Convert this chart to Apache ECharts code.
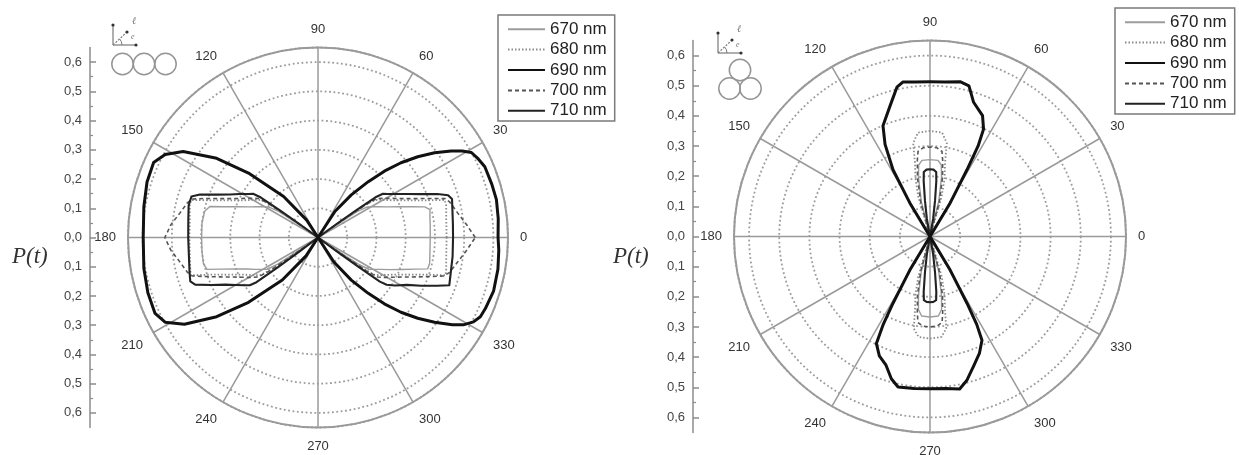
<!DOCTYPE html>
<html>
<head>
<meta charset="utf-8">
<script src="https://cdn.jsdelivr.net/npm/echarts@6/dist/echarts.min.js"></script>
<style>
html, body { margin: 0; padding: 0; background: #fff; }
#chart { width: 1239px; height: 455px; }
</style>
</head>
<body>
<div id="chart"></div>
<script>
// Wavelengths shown in both legends
const seriesNames = ['670 nm', '680 nm', '690 nm', '700 nm', '710 nm'];

// Angular ticks (degrees) and radial scale labels
const angleStep = 30;
const scaleLabels = ['0,0', '0,1', '0,2', '0,3', '0,4', '0,5', '0,6'];

// Chain of three particles in a row: [angle in degrees, P(t)]
const row670 = [[0,.384],[6,.386],[11,.39],[14,.395],[16,.38],[18,.34],[21,.293],[24,.258],[27,.232],[30,.21],[32,.195],[33.5,.16],[34,.1],[34.5,.045],[35,0],
  [145,0],[145.5,.045],[146,.1],[146.5,.16],[148,.195],[150,.21],[153,.232],[156,.258],[159,.293],[162,.34],[164,.385],[167,.398],[173,.40],[180,.398],
  [187,.40],[193,.402],[196,.395],[198,.35],[201,.30],[204,.265],[207,.24],[210,.218],[212,.205],[213.5,.165],[214,.1],[214.5,.045],[215,0],
  [325,0],[325.5,.045],[326,.1],[326.5,.165],[328,.205],[330,.218],[333,.24],[336,.27],[339,.305],[342,.35],[344,.39],[347,.392],[353,.386],[360,.384]];
const row680 = [[0,.44],[8,.443],[14,.452],[16.5,.452],[19,.39],[22,.34],[25,.30],[28,.272],[31,.25],[33.5,.232],[34.5,.19],[35,.12],[35.5,.06],[36,0],
  [144,0],[144.5,.06],[145,.12],[145.5,.19],[146.5,.232],[149,.25],[152,.272],[155,.30],[158,.34],[161,.39],[163.5,.452],[166,.452],[172,.443],[180,.44],
  [188,.443],[194,.45],[196.5,.455],[199,.39],[202,.34],[205,.30],[208,.272],[211,.25],[213.5,.232],[214.5,.19],[215,.12],[215.5,.06],[216,0],
  [324,0],[324.5,.06],[325,.12],[325.5,.19],[326.5,.232],[329,.25],[332,.272],[335,.30],[338,.34],[341,.39],[343.5,.455],[346,.452],[352,.443],[360,.44]];
const row690 = [[0,.616],[6,.62],[12,.624],[17,.622],[23,.62],[26,.611],[29,.60],[31,.575],[33,.543],[36,.493],[39,.439],[42,.382],[45,.321],[48,.257],[52,.185],[57,.106],[62,0],
  [118,0],[123,.071],[130,.183],[137,.32],[142,.44],[147.5,.547],[151.5,.595],[155.5,.618],[162,.615],[170,.605],[180,.598],
  [190,.605],[198,.612],[205,.615],[209,.598],[213,.545],[218,.44],[223,.325],[230,.19],[237,.075],[242,0],
  [298,0],[303,.1],[308,.185],[312,.257],[315,.321],[318,.382],[321,.439],[324,.493],[327,.548],[329,.58],[331.5,.605],[334,.618],[337,.622],[343,.628],[350,.625],[356,.62],[360,.616]];
const row700 = [[0,.538],[5,.51],[10,.485],[15,.467],[17,.455],[19,.41],[22,.355],[25,.315],[28,.285],[31,.26],[33.5,.242],[34.5,.2],[35,.13],[35.5,.06],[36,0],
  [144,0],[144.5,.06],[145,.13],[145.5,.2],[146.5,.242],[149,.26],[152,.285],[155,.315],[158,.355],[161,.41],[163,.45],[165,.462],[170,.48],[175,.505],[180,.524],
  [185,.505],[190,.48],[195,.462],[197,.45],[199,.41],[202,.36],[205,.32],[208,.29],[211,.265],[213.5,.245],[214.5,.2],[215,.13],[215.5,.06],[216,0],
  [324,0],[324.5,.06],[325,.13],[325.5,.2],[326.5,.245],[329,.265],[332,.29],[335,.32],[338,.36],[341,.41],[343,.45],[345,.465],[350,.485],[355,.51],[360,.538]];
const row710 = [[0,.462],[6,.464],[12,.47],[16,.477],[18,.468],[20,.435],[23,.38],[26,.34],[29,.307],[32,.281],[34,.268],[35,.24],[35.5,.16],[36,.08],[36.5,0],
  [143.5,0],[144,.08],[144.5,.16],[145,.24],[146,.268],[148,.281],[151,.307],[154,.335],[157,.375],[160,.43],[162,.455],[166,.456],[172,.448],[180,.444],
  [188,.446],[195,.455],[199,.462],[201,.45],[204,.40],[207,.355],[210,.325],[213,.3],[215,.285],[216,.26],[216.5,.17],[217,.08],[217.5,0],
  [323,0],[323.5,.08],[324,.17],[324.5,.26],[325.5,.285],[328,.31],[332,.345],[335,.39],[338,.44],[340,.478],[345,.47],[352,.465],[360,.462]];

// Triangular cluster of three particles: [angle in degrees, P(t)]
const tri670 = [[0,0],[73,0],[76,.12],[79,.2],[81,.24],[84,.254],[90,.255],[96,.254],[99,.24],[101,.2],[104,.12],[107,0],
  [253,0],[256,.12],[259,.2],[261,.245],[264,.265],[270,.267],[276,.265],[279,.245],[281,.2],[284,.12],[287,0],[360,0]];
const tri680 = [[0,0],[70,0],[73.7,.139],[76,.2],[78.5,.25],[79.8,.315],[83.4,.347],[90,.35],[96.6,.347],[100.2,.315],[101.5,.25],[104,.2],[106.3,.139],[110,0],
  [250,0],[253.7,.139],[256,.2],[258.5,.25],[260,.31],[263.5,.335],[270,.339],[276.5,.335],[280,.31],[281.5,.25],[284,.2],[286.3,.139],[290,0],[360,0]];
const tri690 = [[0,0],[57,0],[59,.13],[61,.253],[62,.34],[63.5,.398],[66.5,.437],[72,.468],[75.5,.516],[79,.523],[84.5,.515],[90,.513],[95.5,.515],[100,.52],[102.5,.507],[107,.453],[113,.399],[116,.34],[119,.253],[121,.13],[123,0],
  [237,0],[239,.13],[241,.253],[242,.33],[243.4,.397],[247,.43],[251,.45],[254.8,.489],[258,.51],[264,.507],[270,.505],[276,.507],[281,.515],[284.3,.493],[289,.45],[293,.42],[296.6,.385],[298,.33],[299,.253],[301,.13],[303,0],[360,0]];
const tri700 = [[0,0],[72,0],[75,.12],[78,.2],[80.5,.255],[82,.285],[85.5,.295],[90,.297],[94.5,.295],[98,.285],[99.5,.255],[102,.2],[105,.12],[108,0],
  [252,0],[255,.12],[258,.2],[260.5,.255],[262,.288],[265.5,.298],[270,.30],[274.5,.298],[278,.288],[279.5,.255],[282,.2],[285,.12],[288,0],[360,0]];
const tri710 = [[0,0],[78,0],[80,.06],[82,.12],[83.5,.185],[84.5,.215],[87,.222],[90,.223],[93,.222],[95.5,.215],[96.5,.185],[98,.12],[100,.06],[102,0],
  [258,0],[260,.06],[262,.12],[263.5,.185],[264.5,.212],[267,.217],[270,.218],[273,.217],[275.5,.212],[276.5,.185],[278,.12],[280,.06],[282,0],[360,0]];

const rowData = { '670 nm': row670, '680 nm': row680, '690 nm': row690, '700 nm': row700, '710 nm': row710 };
const triData = { '670 nm': tri670, '680 nm': tri680, '690 nm': tri690, '700 nm': tri700, '710 nm': tri710 };

// Line appearance per wavelength
const lineLook = {
  '670 nm': { color: '#9c9c9c', width: 1.4, type: 'solid' },
  '680 nm': { color: '#8a8a8a', width: 1.8, type: [1.5, 2] },
  '690 nm': { color: '#111111', width: 3, type: 'solid' },
  '700 nm': { color: '#555555', width: 1.6, type: [4, 3] },
  '710 nm': { color: '#222222', width: 2.1, type: 'solid' }
};
const drawOrder = { '670 nm': 1, '680 nm': 2, '700 nm': 3, '710 nm': 4, '690 nm': 5 };

const font = 'Liberation Sans, Arial, sans-serif';
const gridGray = '#9a9a9a';
const scaleGray = '#8c8c8c';

function polarSeries(name, pairs, polarIndex) {
  return {
    type: 'line', name: name, coordinateSystem: 'polar', polarIndex: polarIndex,
    data: pairs.map(p => [p[1], p[0]]),
    symbol: 'none', smooth: false, animation: false,
    z: 10 + drawOrder[name],
    itemStyle: { color: lineLook[name].color },
    lineStyle: Object.assign({ join: 'round' }, lineLook[name])
  };
}

function angleAxis(polarIndex) {
  return {
    polarIndex: polarIndex, type: 'value', min: 0, max: 360, interval: angleStep,
    startAngle: 0, clockwise: false,
    axisLine: { lineStyle: { color: gridGray, width: 2 } },
    axisTick: { show: false },
    axisLabel: { margin: 12, color: '#333', fontSize: 13, fontFamily: font,
      formatter: v => (v >= 360 ? '' : String(v)) },
    splitLine: { lineStyle: { color: gridGray, width: 1.5 } }
  };
}

function radiusAxis(polarIndex) {
  return {
    polarIndex: polarIndex, type: 'value', min: 0, max: 0.65, interval: 0.1,
    axisLine: { show: false }, axisTick: { show: false }, axisLabel: { show: false },
    splitLine: { lineStyle: { color: '#9c9c9c', width: 1.8, type: [1.8, 2.6] } }
  };
}

// Labelled scale from -0.6 to 0.6 (shown as magnitudes)
function scaleAxis(gridIndex) {
  return {
    gridIndex: gridIndex, type: 'value', min: -0.6, max: 0.6, interval: 0.1,
    axisLine: { show: false },
    axisTick: { show: true, inside: true, length: 6, lineStyle: { color: scaleGray, width: 1.5 } },
    minorTick: { show: true, splitNumber: 2, length: 3, lineStyle: { color: scaleGray, width: 1.2 } },
    splitLine: { show: false },
    axisLabel: {
      margin: 8, color: '#444', fontSize: 13, fontFamily: font,
      formatter: v => scaleLabels[Math.round(Math.abs(v) * 10)] || ''
    }
  };
}

// Bare spine of the scale, running the full radius range
function spineAxis(gridIndex) {
  return {
    gridIndex: gridIndex, type: 'value', min: -0.65, max: 0.65,
    axisLine: { show: true, lineStyle: { color: scaleGray, width: 1.5 } },
    axisTick: { show: false }, axisLabel: { show: false }, splitLine: { show: false }
  };
}

function legendBox(left, top, lineW) {
  return {
    data: seriesNames, orient: 'vertical', left: left, top: top,
    itemWidth: lineW, itemHeight: 14, itemGap: 0,
    padding: [4, 8, 0, 9],
    borderColor: '#7a7a7a', borderWidth: 1.5, backgroundColor: '#fff',
    selectedMode: false,
    itemStyle: { opacity: 0 },
    textStyle: { fontSize: 17, color: '#222', fontFamily: font, lineHeight: 20.4 }
  };
}

// Small geometry sketch: field axes plus particle outlines
function sketch(ox, oy, circles) {
  const g = [];
  const stroke = '#7a7a7a';
  g.push({ type: 'line', shape: { x1: ox, y1: oy, x2: ox, y2: oy + 20 }, style: { stroke: stroke, lineWidth: 1.2 } });
  g.push({ type: 'line', shape: { x1: ox, y1: oy + 20, x2: ox + 23, y2: oy + 20 }, style: { stroke: stroke, lineWidth: 1.2 } });
  g.push({ type: 'line', shape: { x1: ox, y1: oy + 20, x2: ox + 14, y2: oy + 7 }, style: { stroke: stroke, lineWidth: 1.2, lineDash: [2, 1.5] } });
  g.push({ type: 'arc', shape: { cx: ox, cy: oy + 20, r: 9, startAngle: -0.75, endAngle: 0 }, style: { stroke: stroke, lineWidth: 1, fill: null } });
  [[ox, oy], [ox + 23, oy + 20], [ox + 14, oy + 7]].forEach(p => {
    g.push({ type: 'circle', shape: { cx: p[0], cy: p[1], r: 1.6 }, style: { fill: '#333' } });
  });
  g.push({ type: 'text', style: { text: 'ℓ', x: ox + 19, y: oy - 9, font: 'italic 10px Liberation Serif', fill: '#777' } });
  g.push({ type: 'text', style: { text: 'e', x: ox + 18, y: oy + 8, font: 'italic 8px Liberation Serif', fill: '#777' } });
  circles.forEach(c => {
    g.push({ type: 'circle', shape: { cx: c[0], cy: c[1], r: 10.7 }, style: { fill: null, stroke: '#959595', lineWidth: 1.5 } });
  });
  return g;
}

const graphics = []
  .concat(sketch(113, 25, [[122.5, 64], [144, 64], [165.5, 64]]))
  .concat(sketch(718, 33, [[740, 70], [729.5, 88.5], [750.5, 88.5]]))
  .concat([
    { type: 'text', style: { text: 'P(t)', x: 12, y: 257, textVerticalAlign: 'middle', font: 'italic 23px Liberation Serif', fill: '#333' } },
    { type: 'text', style: { text: 'P(t)', x: 613, y: 257, textVerticalAlign: 'middle', font: 'italic 23px Liberation Serif', fill: '#333' } }
  ]);

const series = [];
seriesNames.forEach(n => series.push(polarSeries(n, rowData[n], 0)));
seriesNames.forEach(n => series.push(polarSeries(n, triData[n], 1)));

// Polar centres/radii and the matching vertical scales (0.65 at the rim)
const leftC = [318, 237.5], leftR = 190;
const rightC = [930, 236.5], rightR = 196;
const leftU = leftR / 0.65, rightU = rightR / 0.65;

const chart = echarts.init(document.getElementById('chart'), null, { renderer: 'canvas' });
chart.setOption({
  backgroundColor: '#ffffff',
  animation: false,
  polar: [
    { center: leftC, radius: leftR },
    { center: rightC, radius: rightR }
  ],
  angleAxis: [angleAxis(0), angleAxis(1)],
  radiusAxis: [radiusAxis(0), radiusAxis(1)],
  grid: [
    { left: 90, top: leftC[1] - 0.6 * leftU, width: 30, height: 1.2 * leftU },
    { left: 693, top: rightC[1] - 0.6 * rightU, width: 30, height: 1.2 * rightU },
    { left: 90, top: leftC[1] - leftR, width: 30, height: 2 * leftR },
    { left: 693, top: rightC[1] - rightR, width: 30, height: 2 * rightR }
  ],
  xAxis: [0, 1, 2, 3].map(i => ({ gridIndex: i, type: 'value', show: false })),
  yAxis: [scaleAxis(0), scaleAxis(1), spineAxis(2), spineAxis(3)],
  legend: [legendBox(498, 15, 37), legendBox(1115, 8, 40)],
  graphic: graphics,
  series: series
});
</script>
</body>
</html>
